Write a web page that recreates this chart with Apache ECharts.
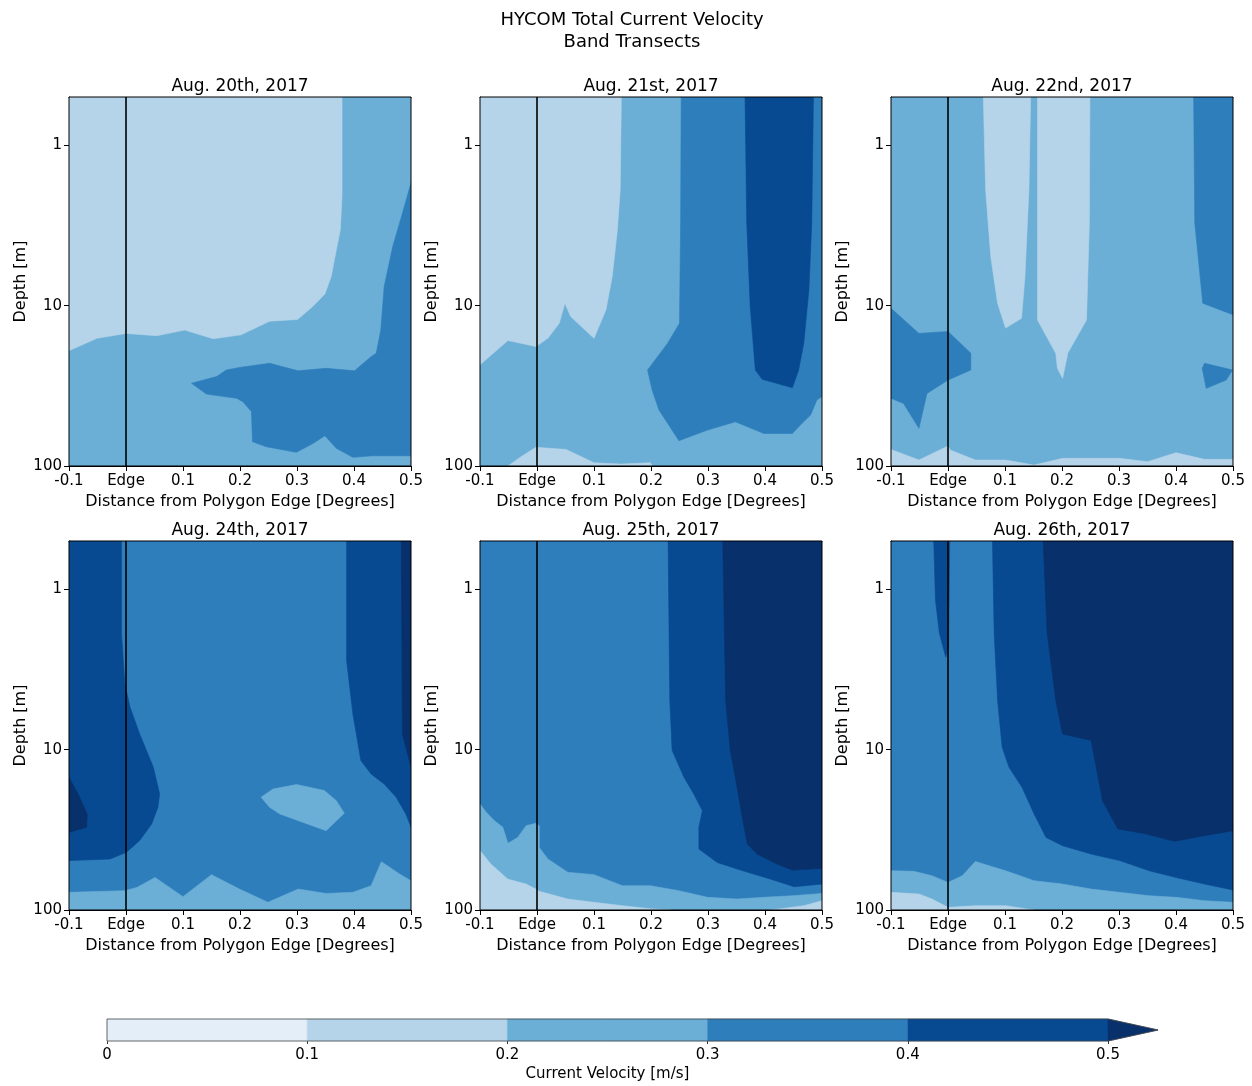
<!DOCTYPE html>
<html><head><meta charset="utf-8">
<script src="https://cdn.jsdelivr.net/npm/echarts@6/dist/echarts.min.js"></script>
<style>html,body{margin:0;padding:0;background:#fff;}#c{width:1252px;height:1086px;}</style>
</head><body><div id="c"></div>
<script>
// ---------------- data ----------------
const LEVELS = [0, 0.1, 0.2, 0.3, 0.4, 0.5];
const LEVEL_COLORS = ['#e3eef9', '#b6d4e9', '#6baed6', '#2e7ebc', '#084a92', '#08306b'];
const X_MIN = -0.1, X_MAX = 0.5, X_STEP = 0.1;
const DEPTH_MIN = 0.5, DEPTH_MAX = 100;
const DEPTH_TICKS = [1, 10, 100];
const DEPTH_MINOR = [0.6, 0.7, 0.8, 0.9, 2, 3, 4, 5, 6, 7, 8, 9, 20, 30, 40, 50, 60, 70, 80, 90];
const EDGE_X = 0;
const PANEL_TITLES = ['Aug. 20th, 2017', 'Aug. 21st, 2017', 'Aug. 22nd, 2017', 'Aug. 24th, 2017', 'Aug. 25th, 2017', 'Aug. 26th, 2017'];
// contour level filling the whole panel (index into LEVELS bands)
const PANEL_BASE = [2, 2, 2, 3, 3, 3];

// contour band outlines: [distance (deg), depth (m)]
// Aug 20
const aug20_b1 = [[-0.1,0.5],[0.379,0.5],[0.379,2.08],[0.376,3.37],[0.369,4.49],[0.360,6.58],[0.349,8.45],[0.328,10.1],[0.301,12.2],[0.252,12.5],[0.202,15.2],[0.153,16.1],[0.103,14.2],[0.054,15.4],[0,14.9],[-0.051,16.0],[-0.1,19.1]];
const aug20_b3 = [[0.5,1.72],[0.485,2.65],[0.468,4.28],[0.453,7.6],[0.447,14.2],[0.439,19.8],[0.430,20.8],[0.401,25.5],[0.351,24.6],[0.302,25.5],[0.252,22.9],[0.202,24.2],[0.176,25.2],[0.159,27.7],[0.115,30.5],[0.141,35.6],[0.194,37.8],[0.205,39.7],[0.220,45.8],[0.222,70.5],[0.246,75.8],[0.299,82.2],[0.328,72.3],[0.349,64.7],[0.369,77.6],[0.398,88.3],[0.433,86.3],[0.5,86.3]];
// Aug 21
const aug21_b1a = [[-0.1,0.5],[0.148,0.5],[0.146,1.89],[0.141,3.37],[0.132,6.58],[0.121,10.6],[0.100,16.0],[0.059,11.7],[0.049,9.66],[0.039,12.9],[0.019,16.0],[-0.002,18.0],[-0.051,16.5],[-0.1,23.4]];
const aug21_b1b = [[-0.051,100],[-0.028,87.5],[-0.002,76.5],[0.051,78.8],[0.100,95.4],[0.147,97.3],[0.199,95.4],[0.202,100]];
const aug21_b3 = [[0.253,0.5],[0.5,0.5],[0.5,36.9],[0.491,38.7],[0.480,48.1],[0.465,54.2],[0.448,62.7],[0.398,62.7],[0.348,53.0],[0.299,59.7],[0.249,69.5],[0.214,44.8],[0.202,33.6],[0.194,25.2],[0.229,17.2],[0.250,12.9],[0.252,3.06]];
const aug21_b4 = [[0.365,0.5],[0.485,0.5],[0.482,3.06],[0.477,7.98],[0.468,17.2],[0.459,25.2],[0.448,32.5],[0.395,28.8],[0.383,25.2],[0.374,10.1],[0.368,3.06]];
// Aug 22
const aug22_b1a = [[0.062,0.5],[0.066,1.89],[0.075,4.94],[0.087,9.66],[0.101,13.8],[0.129,12.0],[0.135,6.58],[0.142,1.89],[0.145,0.5]];
const aug22_b1b = [[0.157,0.5],[0.157,12.3],[0.189,19.8],[0.192,24.6],[0.201,28.4],[0.209,20.8],[0.210,19.8],[0.243,12.3],[0.248,3.06],[0.249,0.5]];
const aug22_b3a = [[0.431,0.5],[0.433,3.06],[0.447,9.66],[0.5,11.4],[0.5,0.5]];
const aug22_b3b = [[-0.1,10.4],[-0.051,14.9],[0,14.5],[0.040,19.8],[0.040,25.2],[0,29.1],[-0.037,35.3],[-0.051,58.2],[-0.078,40.7],[-0.1,37.8]];
const aug22_b3c = [[0.446,24.6],[0.453,32.8],[0.488,29.1],[0.499,25.2],[0.450,22.9]];
const aug22_b1c = [[-0.1,78.8],[-0.051,91.8],[0,75.0],[0.004,79.5],[0.048,91.8],[0.101,91.8],[0.151,98.7],[0.201,89.6],[0.301,89.6],[0.350,94.0],[0.400,82.6],[0.450,90.9],[0.5,90.9],[0.5,100],[-0.1,100]];
// Aug 24
const aug24_b4a = [[-0.1,0.5],[-0.008,0.5],[-0.008,1.89],[-0.002,3.88],[0.007,5.43],[0.024,7.98],[0.048,12.9],[0.059,18.9],[0.056,22.9],[0.045,29.1],[0.024,36.9],[0.001,43.6],[-0.028,48.1],[-0.1,49.2]];
const aug24_b5a = [[-0.1,14.9],[-0.084,18.9],[-0.068,25.2],[-0.069,30.5],[-0.1,32.8]];
const aug24_b2a = [[0.237,19.8],[0.258,17.6],[0.299,16.5],[0.348,18.0],[0.369,20.8],[0.383,24.9],[0.351,32.0],[0.270,25.2],[0.252,22.9]];
const aug24_b4b = [[0.387,0.5],[0.387,2.78],[0.398,5.99],[0.412,11.7],[0.430,14.2],[0.453,16.4],[0.474,19.8],[0.491,25.2],[0.5,30.5],[0.5,0.5]];
const aug24_b5b = [[0.483,0.5],[0.485,7.98],[0.5,12.9],[0.5,0.5]];
const aug24_b2b = [[-0.1,77.6],[-0.002,75.8],[0.019,72.3],[0.051,62.7],[0.100,82.6],[0.150,60.2],[0.199,74.1],[0.249,89.6],[0.302,74.1],[0.351,78.8],[0.398,77.6],[0.430,70.6],[0.448,50.0],[0.480,59.7],[0.5,65.7],[0.5,100],[-0.1,100]];
// Aug 25
const aug25_b4 = [[0.230,0.5],[0.233,4.94],[0.237,10.1],[0.258,14.9],[0.275,18.9],[0.290,24.0],[0.284,30.5],[0.284,41.6],[0.316,50.5],[0.351,55.5],[0.410,64.2],[0.451,71.6],[0.5,68.9],[0.5,0.5]];
const aug25_b5 = [[0.326,0.5],[0.331,4.94],[0.339,10.1],[0.351,17.2],[0.360,26.4],[0.369,38.7],[0.386,44.8],[0.421,51.7],[0.448,56.4],[0.5,55.0],[0.5,0.5]];
const aug25_b2 = [[-0.1,21.8],[-0.089,24.6],[-0.075,27.7],[-0.060,30.5],[-0.051,38.4],[-0.034,35.3],[-0.019,29.8],[-0.002,28.8],[0.004,29.8],[0.004,40.7],[0.019,48.1],[0.054,58.2],[0.100,60.2],[0.150,70.6],[0.199,70.6],[0.249,75.8],[0.299,83.4],[0.351,85.5],[0.398,83.4],[0.448,81.5],[0.5,78.8],[0.5,100],[-0.1,100]];
const aug25_b1a = [[-0.1,42.6],[-0.081,51.7],[-0.051,64.2],[-0.019,68.9],[-0.002,74.1],[0.004,76.5],[0.054,85.5],[0.100,89.6],[0.150,94.0],[0.199,98.2],[0.234,100],[-0.1,100]];
const aug25_b1b = [[0.410,100],[0.468,94.0],[0.5,87.5],[0.5,100]];
// Aug 26
const aug26_b4a = [[-0.025,0.5],[-0.022,1.17],[-0.015,1.89],[-0.004,2.65],[0.001,2.30],[0.003,0.5]];
const aug26_b4b = [[0.078,0.5],[0.081,1.89],[0.087,4.94],[0.095,9.66],[0.107,12.9],[0.130,17.2],[0.151,25.2],[0.172,35.3],[0.201,39.7],[0.251,44.8],[0.301,49.2],[0.353,56.9],[0.400,62.7],[0.450,68.9],[0.5,75.0],[0.5,0.5]];
const aug26_b5 = [[0.167,0.5],[0.174,1.89],[0.189,4.94],[0.201,7.98],[0.251,8.77],[0.260,12.9],[0.271,20.8],[0.298,31.2],[0.348,33.6],[0.397,37.3],[0.450,34.4],[0.5,32.0],[0.5,0.5]];
const aug26_b2 = [[-0.1,56.9],[-0.060,57.4],[-0.028,61.1],[0,67.3],[0.025,61.1],[0.048,49.8],[0.081,54.2],[0.101,56.9],[0.151,65.7],[0.201,68.9],[0.251,74.1],[0.301,77.6],[0.353,81.5],[0.400,83.4],[0.450,87.5],[0.5,89.6],[0.5,100],[-0.1,100]];
const aug26_b1 = [[-0.1,77.6],[-0.051,79.5],[-0.028,85.5],[0,96.3],[0.048,94.0],[0.101,94.0],[0.151,100],[-0.1,100]];

// band index + outline, drawn in order
const PANEL_LAYERS = [
  [[1, aug20_b1], [3, aug20_b3]],
  [[1, aug21_b1a], [1, aug21_b1b], [3, aug21_b3], [4, aug21_b4]],
  [[1, aug22_b1a], [1, aug22_b1b], [3, aug22_b3a], [3, aug22_b3b], [3, aug22_b3c], [1, aug22_b1c]],
  [[4, aug24_b4a], [5, aug24_b5a], [2, aug24_b2a], [4, aug24_b4b], [5, aug24_b5b], [2, aug24_b2b]],
  [[4, aug25_b4], [5, aug25_b5], [2, aug25_b2], [1, aug25_b1a], [1, aug25_b1b]],
  [[4, aug26_b4a], [4, aug26_b4b], [5, aug26_b5], [2, aug26_b2], [1, aug26_b1]]
];

// ---------------- layout ----------------
const FONT = 'DejaVu Sans';
const COL_LEFT = [69, 480, 891];
const ROW_TOP = [97, 541];
const PW = 342, PH = 369;

const chart = echarts.init(document.getElementById('c'), null, {renderer: 'canvas'});
const grids = [], xAxes = [], yAxes = [], series = [];
const fullRect = [[X_MIN, DEPTH_MIN], [X_MAX, DEPTH_MIN], [X_MAX, DEPTH_MAX], [X_MIN, DEPTH_MAX]];
const fmtX = v => Math.abs(v) < 1e-9 ? 'Edge' : (+v).toFixed(1);

for (let i = 0; i < 6; i++) {
  grids.push({left: COL_LEFT[i % 3], top: ROW_TOP[Math.floor(i / 3)], width: PW, height: PH,
    show: true, borderColor: '#000', borderWidth: 1, backgroundColor: 'transparent', z: 10,
    containLabel: false, outerBoundsMode: 'none'});
  xAxes.push({gridIndex: i, type: 'value', min: X_MIN, max: X_MAX, interval: X_STEP, position: 'bottom',
    axisLine: {show: true, onZero: false, lineStyle: {color: '#000', width: 1}},
    axisTick: {show: true, length: 5, lineStyle: {color: '#000', width: 1}},
    axisLabel: {fontSize: 15, color: '#000', fontFamily: FONT, margin: 8, formatter: fmtX},
    splitLine: {show: false},
    name: 'Distance from Polygon Edge [Degrees]', nameLocation: 'middle', nameGap: 28,
    nameTextStyle: {fontSize: 16, color: '#000', fontFamily: FONT}});
  xAxes.push({gridIndex: i, type: 'value', min: X_MIN, max: X_MAX, position: 'top',
    axisLine: {show: true, onZero: false, lineStyle: {color: '#000', width: 1}},
    axisTick: {show: false}, axisLabel: {show: false}, splitLine: {show: false},
    name: PANEL_TITLES[i], nameLocation: 'middle', nameGap: 2,
    nameTextStyle: {fontSize: 17, color: '#000', fontFamily: FONT}});
  yAxes.push({gridIndex: i, type: 'log', logBase: 10, min: DEPTH_MIN, max: DEPTH_MAX, inverse: true, position: 'left',
    axisLine: {show: true, onZero: false, lineStyle: {color: '#000', width: 1}},
    axisTick: {show: true, length: 5, customValues: DEPTH_TICKS, lineStyle: {color: '#000', width: 1}},
    axisLabel: {customValues: DEPTH_TICKS, fontSize: 15, color: '#000', fontFamily: FONT, margin: 7,
      formatter: v => String(Math.round(v))},
    splitLine: {show: false}, minorTick: {show: false},
    name: 'Depth [m]', nameLocation: 'middle', nameGap: 40, nameRotate: 90,
    nameTextStyle: {fontSize: 16, color: '#000', fontFamily: FONT}});
  yAxes.push({gridIndex: i, type: 'log', logBase: 10, min: DEPTH_MIN, max: DEPTH_MAX, inverse: true, position: 'left',
    axisLine: {show: false},
    axisTick: {show: true, length: 3, customValues: DEPTH_MINOR, lineStyle: {color: '#000', width: 0.8}},
    axisLabel: {show: false}, splitLine: {show: false}});

  const items = [{level: PANEL_BASE[i], poly: fullRect}]
    .concat(PANEL_LAYERS[i].map(l => ({level: l[0], poly: l[1]})))
    .concat([{edge: true, poly: [[EDGE_X, DEPTH_MIN], [EDGE_X, DEPTH_MAX]]}]);
  series.push({
    type: 'custom', coordinateSystem: 'cartesian2d', xAxisIndex: 2 * i, yAxisIndex: 2 * i,
    clip: true, silent: true, animation: false,
    data: items.map(it => [it.poly[0][0], it.poly[0][1]]),
    encode: {x: 0, y: 1},
    renderItem: (params, api) => {
      const it = items[params.dataIndex];
      const pts = it.poly.map(p => api.coord(p));
      if (it.edge) {
        return {type: 'line', shape: {x1: pts[0][0], y1: pts[0][1], x2: pts[1][0], y2: pts[1][1]},
          style: {stroke: '#000', lineWidth: 1.6}};
      }
      const c = LEVEL_COLORS[it.level];
      return {type: 'polygon', shape: {points: pts}, style: {fill: c, stroke: c, lineWidth: 0.6}};
    }
  });
}

// colorbar
grids.push({left: 107, top: 1019, width: 1001, height: 22, show: false, containLabel: false, outerBoundsMode: 'none'});
xAxes.push({gridIndex: 6, type: 'value', min: LEVELS[0], max: LEVELS[LEVELS.length - 1], interval: 0.1, position: 'bottom',
  axisLine: {show: false}, axisTick: {show: true, length: 3, lineStyle: {color: '#333', width: 1}},
  axisLabel: {fontSize: 15, color: '#000', fontFamily: FONT, margin: 7, formatter: v => v === 0 ? '0' : (+v).toFixed(1)},
  splitLine: {show: false},
  name: 'Current Velocity [m/s]', nameLocation: 'middle', nameGap: 26,
  nameTextStyle: {fontSize: 15, color: '#000', fontFamily: FONT}});
yAxes.push({gridIndex: 6, type: 'value', min: 0, max: 1, show: false});
const EXT_FRAC = 0.05;
const cbTip = LEVELS[5] + EXT_FRAC * (LEVELS[5] - LEVELS[0]);
const cbItems = LEVELS.slice(0, 5).map((v, k) => ({kind: 'rect', lo: v, hi: LEVELS[k + 1], color: LEVEL_COLORS[k]}))
  .concat([{kind: 'ext', lo: LEVELS[5], hi: cbTip, color: LEVEL_COLORS[5]}, {kind: 'outline'}]);
series.push({
  type: 'custom', coordinateSystem: 'cartesian2d', xAxisIndex: 12, yAxisIndex: 12, clip: false, silent: true, animation: false,
  data: cbItems.map(it => [it.lo !== undefined ? it.lo : 0, 0.5]),
  encode: {x: 0, y: 1},
  renderItem: (params, api) => {
    const it = cbItems[params.dataIndex];
    if (it.kind === 'rect') {
      const a = api.coord([it.lo, 1]), b = api.coord([it.hi, 0]);
      return {type: 'rect', shape: {x: a[0], y: a[1], width: b[0] - a[0], height: b[1] - a[1]},
        style: {fill: it.color, stroke: it.color, lineWidth: 0.5}};
    }
    if (it.kind === 'ext') {
      const pts = [[it.lo, 1], [it.hi, 0.5], [it.lo, 0]].map(p => api.coord(p));
      return {type: 'polygon', shape: {points: pts}, style: {fill: it.color, stroke: it.color, lineWidth: 0.5}};
    }
    const pts = [[LEVELS[0], 1], [LEVELS[5], 1], [cbTip, 0.5], [LEVELS[5], 0], [LEVELS[0], 0]].map(p => api.coord(p));
    return {type: 'polygon', shape: {points: pts}, style: {fill: 'none', stroke: '#444', lineWidth: 0.8}, z2: 10};
  }
});

chart.setOption({
  backgroundColor: '#fff',
  animation: false,
  textStyle: {fontFamily: FONT},
  graphic: [{type: 'text', x: 632, y: 9, silent: true,
    style: {text: 'HYCOM Total Current Velocity\nBand Transects', align: 'center', verticalAlign: 'top',
      font: '18px "DejaVu Sans"', lineHeight: 22, fill: '#000'}}],
  grid: grids, xAxis: xAxes, yAxis: yAxes, series: series
});
</script></body></html>
